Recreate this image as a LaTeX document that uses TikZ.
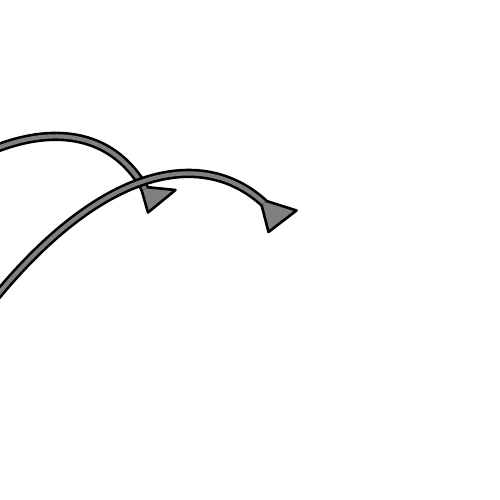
\documentclass[tikz,border=0pt]{standalone}
\begin{document}
\begin{tikzpicture}[x=1pt,y=-1pt,
  shaft/.style={line width=2.6pt,draw=black,double=arrowgray,double distance=4.2pt,line cap=butt},
  headtri/.style={draw=black,fill=arrowgray,line width=2.6pt,line join=round}]
\definecolor{arrowgray}{HTML}{808080}
\useasboundingbox (0,0) rectangle (500,500);
% arrow 1
\coordinate (s1) at (-5,149);
\coordinate (e1) at (145,189);
\filldraw[headtri] (140.5,186.5) -- (175.5,190) -- (148,212.5) -- cycle;
\draw[shaft] (s1) .. controls (48,128) and (110,128) .. (e1);
% arrow 2
\coordinate (s2) at (-5,298);
\coordinate (e2) at (264,203);
\filldraw[headtri] (260,199) -- (296.5,210.5) -- (268.5,232) -- cycle;
\draw[shaft] (s2) .. controls (100,170) and (200,145) .. (e2);
\end{tikzpicture}
\end{document}
